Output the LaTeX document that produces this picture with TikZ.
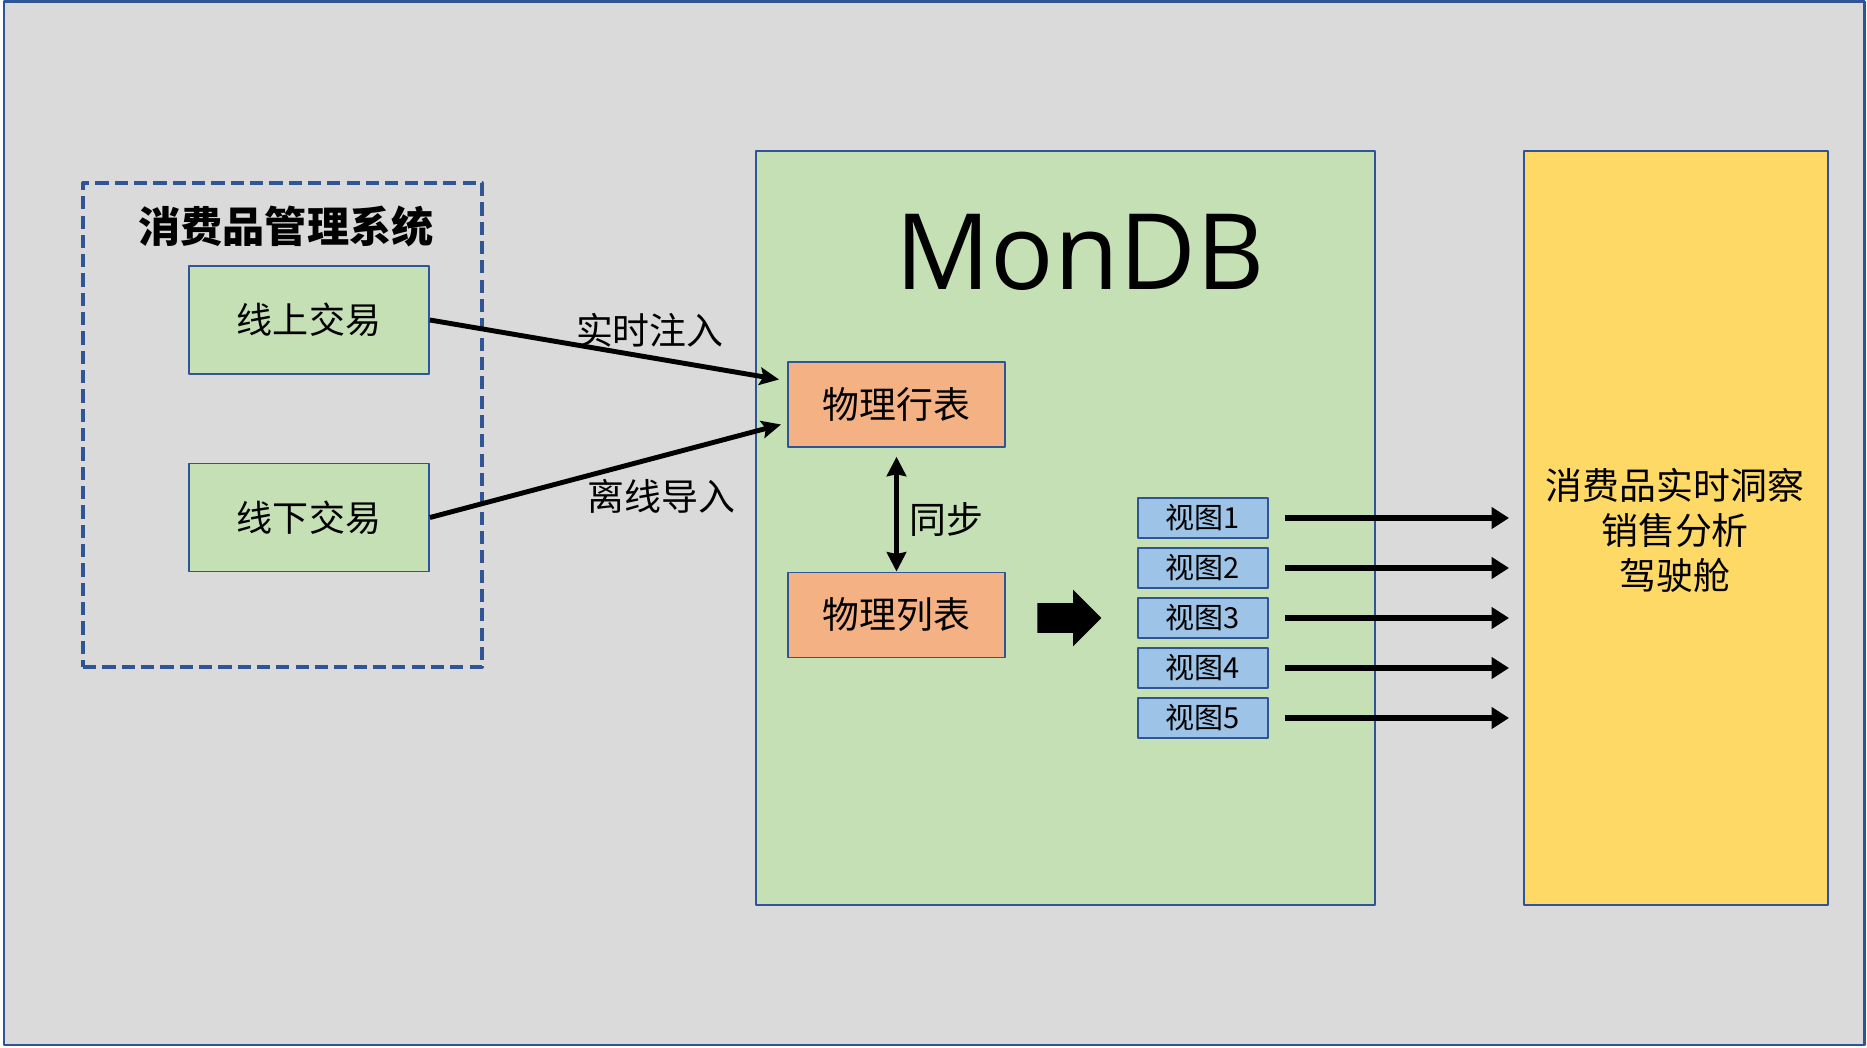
\documentclass[tikz,border=0pt]{standalone}
\usepackage{fontspec}
\setmainfont{Noto Sans CJK SC}
\newfontfamily\dbfont{Open Sans}
\usetikzlibrary{arrows.meta,shapes.arrows,calc}
\definecolor{bggray}{HTML}{DADADA}
\definecolor{frameblue}{HTML}{2F5597}
\definecolor{boxgreen}{HTML}{C5E0B4}
\definecolor{boxorange}{HTML}{F4B183}
\definecolor{viewblue}{HTML}{9DC3E6}
\definecolor{boxyellow}{HTML}{FFD966}
\tikzset{
	srcbox/.style={draw=frameblue, line width=1.1pt, fill=boxgreen, minimum width=4.8cm, minimum height=2.16cm, font=\fontsize{20.5}{24}\selectfont},
	tblbox/.style={draw=frameblue, line width=1.1pt, fill=boxorange, minimum width=4.34cm, minimum height=1.7cm, font=\fontsize{21}{25}\selectfont},
	viewbox/.style={draw=frameblue, line width=1.1pt, fill=viewblue, minimum width=2.6cm, minimum height=0.8cm, inner sep=0pt, font=\fontsize{16.5}{20}\selectfont},
	lbl/.style={font=\fontsize{21}{25.6}\selectfont, inner sep=2pt},
	inarrow/.style={line width=2.8pt, -{Stealth[length=11pt,width=10pt,inset=2pt]}},
	outarrow/.style={line width=2.9pt, -{Triangle[length=10pt,width=12pt]}},
}
\begin{document}
\begin{tikzpicture}[x=0.02cm, y=-0.02cm, line join=round]
	\useasboundingbox (0,0) rectangle (1867,1048);
	\draw[frameblue, line width=1.2pt, fill=bggray] (4,1.5) rectangle (1864.5,1045);
	% source side
	\node[draw=frameblue, line width=2.3pt, dash pattern=on 7.5pt off 3.5pt, minimum width=7.98cm, minimum height=9.68cm] (sys) at (282.5,425) {};
	\node[font=\fontsize{24}{28}\selectfont\bfseries] (title) at (286,226) {消费品管理系统};
	\node[srcbox] (on) at (309,320) {线上交易};
	\node[srcbox] (off) at (309,517.5) {线下交易};
	% database
	\node[draw=frameblue, line width=1.1pt, fill=boxgreen, minimum width=12.38cm, minimum height=15.08cm] (db) at (1065.5,528) {};
	\node[font=\dbfont\fontsize{60}{70}\selectfont] (dbname) at (1080,252) {MonDB};
	\node[tblbox] (row) at (896.5,404.5) {物理行表};
	\node[tblbox] (col) at (896.5,615) {物理列表};
	\node[single arrow, fill=black, inner xsep=0pt, inner ysep=0.29cm, minimum height=1.28cm, single arrow head extend=0.27cm, anchor=tail] (push) at (1037,618) {};
	\foreach \i in {1,...,5}
		\node[viewbox] (v\i) at (1203,468+50*\i) {视图\i};
	% cockpit
	\node[draw=frameblue, line width=1.1pt, fill=boxyellow, minimum width=6.08cm, minimum height=15.08cm] (board) at (1676,528) {};
	\node[lbl, align=center] (goal) at (1675,530) {消费品实时洞察\\销售分析\\驾驶舱};
	% connectors
	\draw[inarrow] (on.east) -- ($(row.west)+(-8,-25)$) node[lbl, pos=.63, above=2.5pt] {实时注入};
	\draw[inarrow] (off.east) -- ($(row.west)+(-6,20)$) node[lbl, pos=.66, below=10pt] {离线导入};
	\draw[line width=2.8pt, {Stealth[length=11pt,width=11pt,inset=1pt]}-{Stealth[length=11pt,width=11pt,inset=1pt]}, shorten <=5pt] (row.south) -- (col.north) node[lbl, pos=.58, right=4pt] {同步};
	\foreach \i in {1,...,5}
		\draw[outarrow] ($(v\i.east)+(16,0)$) -- ($(v\i.east -| board.west)+(-14,0)$);
\end{tikzpicture}
\end{document}
